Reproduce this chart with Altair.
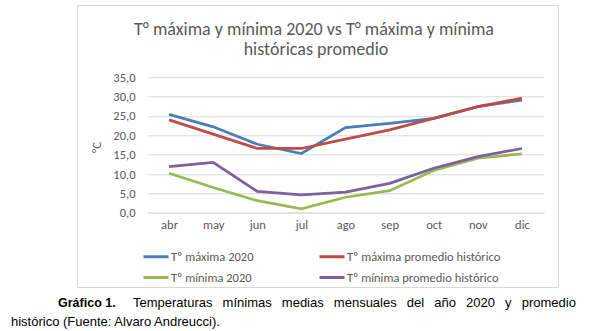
import altair as alt
import pandas as pd

months = ["abr", "may", "jun", "jul", "ago", "sep", "oct", "nov", "dic"]
series_names = [
    "Tº máxima 2020",
    "Tº máxima promedio histórico",
    "Tº mínima 2020",
    "Tº mínima promedio histórico",
]
max_2020 = [25.4, 22.2, 17.7, 15.3, 22.0, 23.1, 24.4, 27.4, 29.1]
max_hist = [24.0, 20.3, 16.6, 16.6, 19.0, 21.4, 24.4, 27.4, 29.6]
min_2020 = [10.2, 6.5, 3.1, 1.0, 4.0, 5.7, 10.9, 14.1, 15.2]
min_hist = [11.9, 13.0, 5.5, 4.6, 5.3, 7.6, 11.5, 14.5, 16.6]
colors = ["#4A7EBB", "#BE4B48", "#98B954", "#7D60A0"]

title_lines = ["T° máxima y mínima 2020 vs T° máxima y mínima", "históricas promedio"]
caption_bold = "Gráfico 1."
caption_line1 = "Temperaturas mínimas medias mensuales del año 2020 y promedio"
caption_line2 = "histórico (Fuente: Alvaro Andreucci)."

rows = []
for name, vals in zip(series_names, [max_2020, max_hist, min_2020, min_hist]):
    for m, v in zip(months, vals):
        rows.append({"mes": m, "serie": name, "valor": v})
df = pd.DataFrame(rows)

# legend lays entries out column by column: order so rows read as in the reference
legend_order = [0, 2, 1, 3]
legend_domain = [series_names[i] for i in legend_order]
legend_colors = [colors[i] for i in legend_order]

FONT = "Carlito, Lato, sans-serif"
GRAY = "#595959"
W, H = 397, 135.4
L, T = 147, 77.3

lines = alt.Chart(df).mark_line(strokeWidth=2.75).encode(
    x=alt.X("mes:N", sort=months, scale=alt.Scale(type="point", padding=0.5),
            axis=alt.Axis(title=None, labelAngle=0, ticks=False, domain=True,
                          domainColor="#d9d9d9", grid=False, labelPadding=6,
                          labelFont=FONT, labelFontSize=12.5, labelColor=GRAY)),
    y=alt.Y("valor:Q", scale=alt.Scale(domain=[0, 35], nice=False),
            axis=alt.Axis(values=[0, 5, 10, 15, 20, 25, 30, 35], title="°C",
                          labelExpr="replace(format(datum.value, '.1f'), '.', ',')",
                          ticks=False, domain=False, gridColor="#d9d9d9",
                          labelPadding=12, labelFont=FONT, labelFontSize=12.5,
                          labelColor=GRAY, titleFont=FONT, titleFontSize=13,
                          titleFontWeight="normal", titleColor=GRAY,
                          titleX=103 - L, titleY=147 - T)),
    color=alt.Color("serie:N", sort=legend_domain,
                    scale=alt.Scale(domain=legend_domain, range=legend_colors),
                    legend=alt.Legend(title=None, orient="none", columns=2,
                                      legendX=142 - L, legendY=242.5 - T,
                                      symbolType="stroke", symbolSize=625,
                                      symbolStrokeWidth=3, labelOffset=1,
                                      columnPadding=59, rowPadding=-3,
                                      labelFont=FONT, labelFontSize=12.5,
                                      labelColor=GRAY)),
    order=alt.Order("serie_idx:Q"),
).transform_calculate(
    serie_idx="indexof(" + str(series_names) + ", datum.serie)"
)

one = alt.Data(values=[{}])

border = alt.Chart(one).mark_rect(fill=None, stroke="#d9d9d9", strokeWidth=1).encode(
    x=alt.value(77.5 - L), x2=alt.value(558.5 - L),
    y=alt.value(5.5 - T), y2=alt.value(287.5 - T))

t1 = alt.Chart(one).mark_text(text=title_lines[0], font=FONT, fontSize=18,
                              color=GRAY, align="center", baseline="middle").encode(
    x=alt.value(314 - L), y=alt.value(30 - T))
t2 = alt.Chart(one).mark_text(text=title_lines[1], font=FONT, fontSize=18,
                              color=GRAY, align="center", baseline="middle").encode(
    x=alt.value(316 - L), y=alt.value(50 - T))

CFONT = "Liberation Sans"
c0 = alt.Chart(one).mark_text(text=caption_bold, font=CFONT, fontSize=12.5,
                              fontWeight="bold", color="#000000", align="left",
                              baseline="middle").encode(
    x=alt.value(58 - L), y=alt.value(303 - T))
c1 = alt.Chart(one).mark_text(text=caption_line1.replace(" ", " \u2002"), font=CFONT,
                              fontSize=13, color="#000000", align="left",
                              baseline="middle").encode(
    x=alt.value(133 - L), y=alt.value(303 - T))
c2 = alt.Chart(one).mark_text(text=caption_line2, font=CFONT, fontSize=13,
                              color="#000000", align="left",
                              baseline="middle").encode(
    x=alt.value(11 - L), y=alt.value(322 - T))

chart = alt.layer(border, lines, t1, t2, c0, c1, c2).properties(
    width=W, height=H, autosize=alt.AutoSizeParams(type="none"),
    padding={"left": L, "top": T, "right": 591 - L - W, "bottom": 331 - T - H},
    background="white",
).configure_view(stroke=None)

chart.save("out.html", embed_options={"renderer": "svg", "actions": False})
